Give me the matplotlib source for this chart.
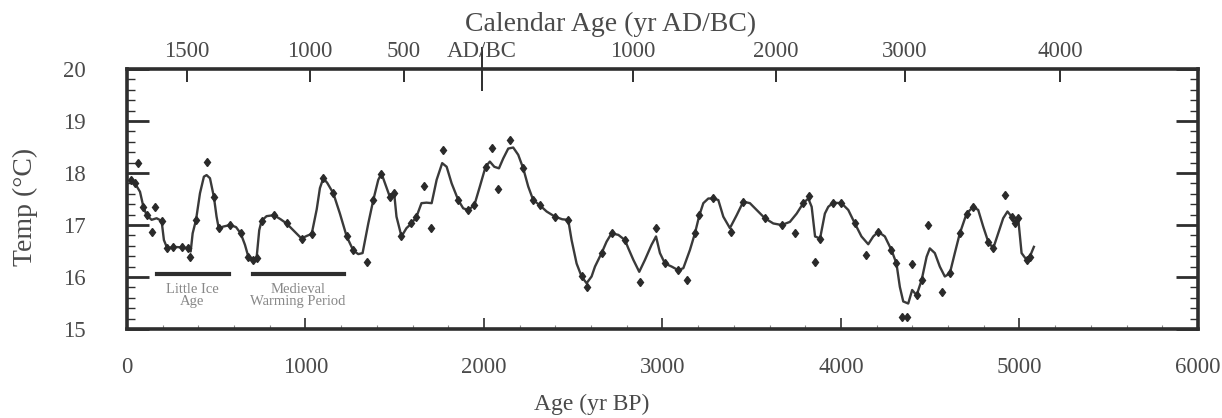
import matplotlib
matplotlib.use('Agg')
import matplotlib.pyplot as plt
from matplotlib.ticker import MultipleLocator

plt.rcParams['font.family'] = ['Liberation Serif', 'DejaVu Serif']

# smoothed temperature curve (radiocarbon yr BP, deg C)
curve_age = [22, 45, 73, 92, 110, 138, 166, 194, 207, 226, 260, 306, 344, 357, 368, 387, 409, 431, 446, 465,
             487, 502, 514, 540, 577, 611, 637, 661, 680, 704, 726, 741, 754, 782, 823, 861, 894, 932, 978, 1007,
             1035, 1063, 1081, 1100, 1122, 1156, 1193, 1231, 1268, 1296, 1320, 1352, 1380, 1408, 1426, 1449, 1473,
             1497, 1510, 1538, 1566, 1594, 1622, 1650, 1678, 1707, 1735, 1766, 1791, 1819, 1856, 1884, 1912, 1946,
             1977, 2009, 2033, 2058, 2084, 2108, 2136, 2164, 2192, 2220, 2248, 2276, 2313, 2351, 2398, 2439, 2472,
             2491, 2519, 2547, 2575, 2603, 2622, 2659, 2687, 2715, 2753, 2790, 2809, 2837, 2870, 2902, 2939, 2964,
             2986, 3014, 3052, 3089, 3117, 3154, 3182, 3207, 3229, 3257, 3285, 3313, 3341, 3378, 3416, 3453, 3490,
             3528, 3574, 3621, 3668, 3714, 3752, 3789, 3817, 3836, 3855, 3883, 3910, 3929, 3957, 4003, 4041, 4078,
             4115, 4153, 4181, 4209, 4246, 4283, 4311, 4330, 4349, 4377, 4399, 4424, 4452, 4480, 4498, 4526, 4554,
             4582, 4610, 4638, 4666, 4704, 4741, 4769, 4797, 4825, 4853, 4881, 4909, 4933, 4956, 4974, 4993, 5012,
             5040, 5058, 5081]
curve_temp = [17.87, 17.80, 17.64, 17.35, 17.19, 17.10, 17.13, 17.08, 16.71, 16.55, 16.58, 16.57, 16.55, 16.49,
              16.84, 17.10, 17.61, 17.93, 17.96, 17.90, 17.54, 17.16, 16.94, 16.97, 17.00, 16.96, 16.84, 16.62,
              16.39, 16.33, 16.36, 16.90, 17.08, 17.17, 17.19, 17.11, 17.03, 16.90, 16.74, 16.79, 16.83, 17.30,
              17.71, 17.90, 17.81, 17.61, 17.22, 16.78, 16.51, 16.44, 16.46, 17.03, 17.48, 17.87, 17.99, 17.77,
              17.54, 17.61, 17.16, 16.78, 16.94, 17.03, 17.16, 17.42, 17.43, 17.42, 17.87, 18.19, 18.12, 17.80,
              17.48, 17.32, 17.29, 17.38, 17.74, 18.12, 18.22, 18.12, 18.09, 18.28, 18.47, 18.49, 18.35, 18.09,
              17.74, 17.48, 17.38, 17.26, 17.16, 17.11, 17.10, 16.71, 16.26, 16.01, 15.88, 16.01, 16.20, 16.46,
              16.68, 16.84, 16.81, 16.71, 16.55, 16.33, 16.10, 16.33, 16.62, 16.78, 16.46, 16.26, 16.20, 16.13,
              16.17, 16.52, 16.84, 17.19, 17.42, 17.51, 17.51, 17.48, 17.16, 16.94, 17.19, 17.45, 17.42, 17.29,
              17.13, 17.03, 17.00, 17.06, 17.22, 17.42, 17.51, 17.35, 16.78, 16.74, 17.22, 17.35, 17.43,
              17.42, 17.29, 17.03, 16.78, 16.63, 16.78, 16.87, 16.78, 16.52, 16.26, 15.81, 15.53, 15.49, 15.75,
              15.65, 15.94, 16.39, 16.55, 16.46, 16.20, 16.01, 16.07, 16.46, 16.84, 17.22, 17.35, 17.29, 16.97,
              16.68, 16.55, 16.84, 17.13, 17.26, 17.16, 17.03, 17.13, 16.46, 16.33, 16.39, 16.58]

# individual samples
sample_age = [22, 45, 63, 92, 110, 138, 157, 194, 226, 260, 306, 344, 353, 387, 450, 487, 514, 577, 637, 680, 704,
              726, 754, 823, 894, 978, 1035, 1100, 1156, 1231, 1268, 1342, 1380, 1426, 1473, 1497, 1538, 1594, 1622,
              1664, 1703, 1772, 1856, 1912, 1946, 2009, 2043, 2080, 2145, 2220, 2276, 2313, 2398, 2472, 2547, 2575,
              2659, 2715, 2790, 2874, 2964, 3014, 3089, 3139, 3182, 3207, 3285, 3382, 3453, 3574, 3668, 3742, 3789,
              3823, 3855, 3883, 3957, 4003, 4078, 4143, 4209, 4283, 4311, 4340, 4368, 4396, 4424, 4452, 4489, 4567,
              4610, 4666, 4704, 4741, 4825, 4853, 4918, 4956, 4974, 4993, 5040, 5058]
sample_temp = [17.87, 17.80, 18.19, 17.35, 17.19, 16.87, 17.35, 17.08, 16.55, 16.58, 16.57, 16.55, 16.39, 17.10,
               18.22, 17.54, 16.94, 17.00, 16.84, 16.39, 16.33, 16.36, 17.08, 17.19, 17.03, 16.74, 16.83, 17.90,
               17.61, 16.78, 16.51, 16.29, 17.48, 17.99, 17.54, 17.61, 16.78, 17.03, 17.16, 17.75, 16.94, 18.44,
               17.48, 17.29, 17.38, 18.12, 18.49, 17.69, 18.63, 18.09, 17.48, 17.38, 17.16, 17.10, 16.01, 15.81,
               16.46, 16.84, 16.71, 15.91, 16.94, 16.26, 16.13, 15.94, 16.84, 17.19, 17.51, 16.87, 17.45, 17.13,
               17.00, 16.84, 17.42, 17.56, 16.29, 16.74, 17.43, 17.42, 17.03, 16.42, 16.87, 16.52, 16.26, 15.24,
               15.24, 16.25, 15.65, 15.94, 17.00, 15.72, 16.07, 16.84, 17.22, 17.35, 16.68, 16.55, 17.58, 17.16,
               17.03, 17.13, 16.33, 16.39]

# calendar age ticks on top axis (positions in yr BP)
cal_pos = [336, 1025, 1552, 2835, 3636, 4358, 5227]
cal_labels = ['1500', '1000', '500', '1000', '2000', '3000', '4000']
adbc_pos = 1989

# periods
lia = [168, 571]
mwp = [706, 1216]
period_level = 16.06

ink = '#2e2e2e'
txt = '#4a4a4a'

fig = plt.figure(figsize=(12.22, 4.18), dpi=100)
ax = fig.add_axes([0.1039, 0.2129, 0.8764, 0.622])

ax.plot(curve_age, curve_temp, color='#3a3a3a', lw=1.7, zorder=3)
ax.plot(sample_age, sample_temp, 'd', color='#2a2a2a', ms=4.5, zorder=4)

ax.plot(lia, [period_level, period_level], color=ink, lw=3)
ax.plot(mwp, [period_level, period_level], color=ink, lw=3)
ax.text(sum(lia) / 2 - 5, 15.64, 'Little Ice\nAge', ha='center', va='center', fontsize=10.5, color='#888888',
        linespacing=0.95)
ax.text(sum(mwp) / 2 - 3, 15.64, 'Medieval\nWarming Period', ha='center', va='center', fontsize=10.5,
        color='#888888', linespacing=0.95)

ax.set_xlim(0, 6000)
ax.set_ylim(15, 20)
ax.set_xticks(range(0, 6001, 1000))
ax.set_yticks([15, 16, 17, 18, 19, 20])
ax.xaxis.set_minor_locator(MultipleLocator(200))
ax.yaxis.set_minor_locator(MultipleLocator(0.2))
ax.tick_params(axis='y', which='major', direction='in', length=16, width=2, pad=30, labelsize=16.5,
               colors=ink, labelcolor=txt, right=True)
ax.tick_params(axis='y', which='minor', direction='in', length=6, width=1, colors=ink, right=True)
ax.tick_params(axis='x', which='major', direction='in', length=8, width=1.2, pad=20, labelsize=16.5,
               colors=ink, labelcolor=txt, top=False)
ax.tick_params(axis='x', which='minor', direction='in', length=3, width=0.8, colors='#888888', top=False)
for s in ax.spines.values():
    s.set_linewidth(2.6)
    s.set_color(ink)

ax.set_xlabel('Age (yr BP)', fontsize=17, color=txt)
ax.xaxis.set_label_coords(0.434, -0.25)
ax.set_ylabel('Temp (°C)', fontsize=20, color=txt)
ax.yaxis.set_label_coords(-0.083, 0.469)

ax2 = ax.twiny()
ax2.set_xlim(ax.get_xlim())
ax2.set_xticks(cal_pos)
ax2.set_xticklabels(cal_labels)
ax2.set_xticks([adbc_pos], minor=True)
ax2.set_xticklabels(['AD/BC'], minor=True)
ax2.tick_params(axis='x', which='major', direction='in', length=9, width=1.4, pad=5, labelsize=16.5,
                colors=ink, labelcolor=txt)
ax2.tick_params(axis='x', which='minor', direction='inout', length=32, width=1.4, pad=-11, labelsize=16.5,
                colors=ink, labelcolor=txt)
ax2.set_xlabel('Calendar Age (yr AD/BC)', fontsize=20, color=txt)
ax2.xaxis.set_label_coords(0.452, 1.146)
for s in ax2.spines.values():
    s.set_visible(False)

fig.savefig('out.png', dpi=100, facecolor='white')
